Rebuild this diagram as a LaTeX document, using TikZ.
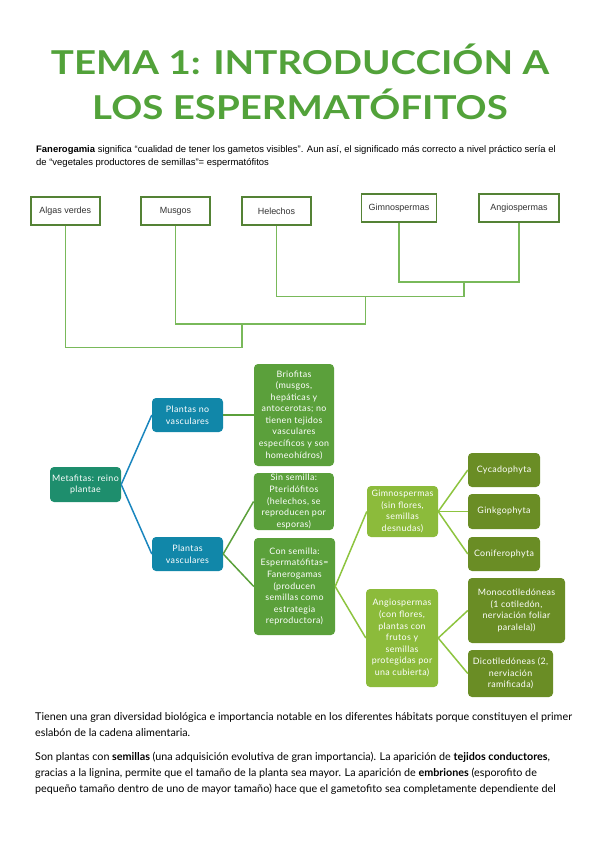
\documentclass[tikz,border=0pt]{standalone}
\usepackage{fontspec}
\setmainfont{Lato}
\newfontfamily\arialf{Liberation Sans}
\newfontfamily\titlef[FakeStretch=1.17]{Lato}
\newfontfamily\smartf[LetterSpace=4]{Lato}
\definecolor{cTitle}{HTML}{52A23A}
\definecolor{cBorder}{HTML}{548235}
\definecolor{cTline}{HTML}{79B95A}
\definecolor{cMeta}{HTML}{1E8E6D}
\definecolor{cBlue}{HTML}{1187A9}
\definecolor{cGreen}{HTML}{5BA03B}
\definecolor{cLight}{HTML}{8CBB3B}
\definecolor{cOlive}{HTML}{6A8D25}
\definecolor{lBlue}{HTML}{1A86BE}
\definecolor{lGreen}{HTML}{5BA03B}
\definecolor{lLight}{HTML}{8DC43F}
\begin{document}
\begin{tikzpicture}[x=1bp,y=-1bp,
  titlefont/.style={font=\titlef\fontsize{33}{40}\selectfont\bfseries, text=cTitle, inner sep=0},
  intro/.style={font=\arialf\fontsize{9.5}{12}\selectfont, anchor=base west, inner sep=0},
  para/.style={font=\fontsize{10.8}{13}\selectfont, anchor=base west, inner sep=0},
  tbox/.style={draw=cBorder, line width=1.4bp, fill=white, inner sep=0,
    font=\arialf\fontsize{9}{10}\selectfont, text=black!80},
  tline/.style={draw=cTline, line width=1.3bp},
  sbox/.style={rounded corners=4bp, inner sep=0bp, align=center, text=white,
    font=\smartf\fontsize{8.9}{11.6}\selectfont},
  cn/.style={line width=1.5bp}
]
\useasboundingbox (0,0) rectangle (599,848);

% Title
\node[titlefont, anchor=base] (t1) at (300,74) {TEMA 1: INTRODUCCIÓN A};
\node[titlefont, anchor=base] (t2) at (300,119) {LOS ESPERMATÓFITOS};

% Intro text
\node[intro] (i1) at (36,152) {\textbf{Fanerogamia} significa “cualidad de tener los gametos visibles”. Aun así, el significado más correcto a nivel práctico sería el};
\node[intro] (i2) at (36,165) {de “vegetales productores de semillas”= espermatófitos};

% Top tree
\node[tbox, minimum width=69bp, minimum height=28bp] (algas) at (65.3,211) {Algas verdes};
\node[tbox, minimum width=69bp, minimum height=28bp] (musgos) at (175.5,211) {Musgos};
\node[tbox, minimum width=69bp, minimum height=28bp] (helechos) at (276.5,211) {Helechos};
\node[tbox, minimum width=75bp, minimum height=28bp] (gimno) at (399,208) {Gimnospermas};
\node[tbox, minimum width=80bp, minimum height=28bp] (angio) at (519,208) {Angiospermas};

\coordinate (y1) at (0,282);
\coordinate (y2) at (0,296.5);
\coordinate (y3) at (0,324);
\coordinate (y4) at (0,347.5);
\coordinate (m1) at (464,282);
\coordinate (m2) at (365.6,296.5);
\coordinate (m3) at (242,324);
\draw[tline] (gimno.south) -- (gimno.south |- y1) -- (angio.south |- y1) -- (angio.south);
\draw[tline] (m1) -- (m1 |- y2);
\draw[tline] (helechos.south) -- (helechos.south |- y2) -- (m1 |- y2);
\draw[tline] (m2) -- (m2 |- y3);
\draw[tline] (musgos.south) -- (musgos.south |- y3) -- (m2 |- y3);
\draw[tline] (m3) -- (m3 |- y4);
\draw[tline] (algas.south) -- (algas.south |- y4) -- (m3 |- y4);

% Bottom tree
\node[sbox, fill=cMeta, minimum width=71bp, minimum height=35bp] (meta) at (85.5,484.5) {Metafitas: reino\\plantae};
\node[sbox, fill=cBlue, minimum width=71bp, minimum height=34bp] (pnv) at (187.5,415) {Plantas no\\vasculares};
\node[sbox, fill=cBlue, minimum width=71bp, minimum height=34bp] (pv) at (187.5,554) {Plantas\\vasculares};
\node[sbox, fill=cGreen, minimum width=80bp, minimum height=102bp] (brio) at (294,415) {Briofitas\\(musgos,\\hepáticas y\\antocerotas; no\\tienen tejidos\\vasculares\\específicos y son\\homeohídros)};
\node[sbox, fill=cGreen, minimum width=80bp, minimum height=57bp] (sin) at (293.8,501.5) {Sin semilla:\\Pteridófitos\\(helechos, se\\reproducen por\\esporas)};
\node[sbox, fill=cGreen, minimum width=81bp, minimum height=97bp] (con) at (294.5,586.5) {Con semilla:\\Espermatófitas=\\Fanerogamas\\(producen\\semillas como\\estrategia\\reproductora)};
\node[sbox, fill=cLight, minimum width=71bp, minimum height=51bp] (gim) at (402.5,511.5) {Gimnospermas\\(sin flores,\\semillas\\desnudas)};
\node[sbox, fill=cLight, minimum width=72bp, minimum height=98bp] (ang) at (402,638) {Angiospermas\\(con flores,\\plantas con\\frutos y\\semillas\\protegidas por\\una cubierta)};
\node[sbox, fill=cOlive, minimum width=72bp, minimum height=34bp] (cyc) at (504,470) {Cycadophyta};
\node[sbox, fill=cOlive, minimum width=72bp, minimum height=35bp] (gin) at (504,511.5) {Ginkgophyta};
\node[sbox, fill=cOlive, minimum width=72bp, minimum height=34bp] (cnf) at (504,554) {Coniferophyta};
\node[sbox, fill=cOlive, minimum width=97bp, minimum height=65bp] (mono) at (516.5,610.5) {Monocotiledóneas\\(1 cotiledón,\\nerviación foliar\\paralela))};
\node[sbox, fill=cOlive, minimum width=85bp, minimum height=47bp] (dico) at (510.5,673.5) {Dicotiledóneas (2,\\nerviación\\ramificada)};

\draw[cn, lBlue] (meta.east) -- (pnv.west);
\draw[cn, lBlue] (meta.east) -- (pv.west);
\draw[cn, lGreen] (pnv.east) -- (brio.west);
\draw[cn, lGreen] (pv.east) -- (sin.west);
\draw[cn, lGreen] (pv.east) -- (con.west);
\draw[cn, lLight] (con.east) -- (gim.west);
\draw[cn, lLight] (con.east) -- (ang.west);
\draw[cn, lLight] (gim.east) -- (cyc.west);
\draw[cn, lLight] (gim.east) -- (gin.west);
\draw[cn, lLight] (gim.east) -- (cnf.west);
\draw[cn, lLight] (ang.east) -- (mono.west);
\draw[cn, lLight] (ang.east) -- (dico.west);

% Bottom paragraphs
\node[para] (p1) at (35,720) {Tienen una gran diversidad biológica e importancia notable en los diferentes hábitats porque constituyen el primer};
\node[para] (p2) at (35,736) {eslabón de la cadena alimentaria.};
\node[para] (p3) at (35,760) {Son plantas con \textbf{semillas} (una adquisición evolutiva de gran importancia). La aparición de \textbf{tejidos conductores},};
\node[para] (p4) at (35,776) {gracias a la lignina, permite que el tamaño de la planta sea mayor. La aparición de \textbf{embriones} (esporofito de};
\node[para] (p5) at (35,792) {pequeño tamaño dentro de uno de mayor tamaño) hace que el gametofito sea completamente dependiente del};
\end{tikzpicture}
\end{document}
